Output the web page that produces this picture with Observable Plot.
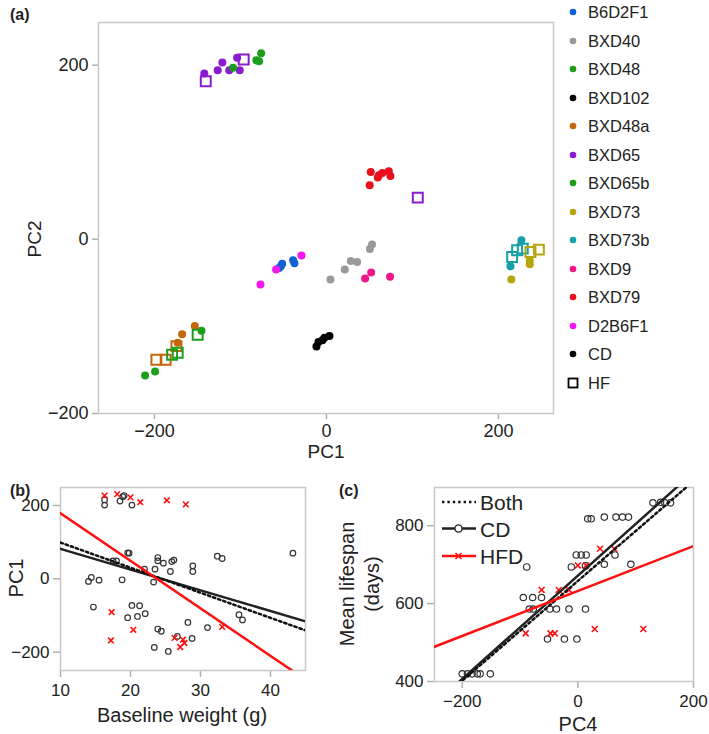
<!DOCTYPE html>
<html><head><meta charset="utf-8">
<script src="https://cdn.jsdelivr.net/npm/d3@7"></script>
<script src="https://cdn.jsdelivr.net/npm/@observablehq/plot@0.6"></script>
<style>
body{margin:0;background:#fff;font-family:"Liberation Sans",Arial,Helvetica,sans-serif;color:#222;}
#root{position:relative;width:709px;height:734px;overflow:hidden;background:#fff;}
.t{position:absolute;white-space:nowrap;line-height:1;}
[aria-label="x-axis tick"],[aria-label="y-axis tick"]{stroke:#b0b0b0;stroke-width:1.5px;}
[aria-label="x-axis tick"] path,[aria-label="y-axis tick"] path{stroke:#b0b0b0;}
</style></head><body><div id="root"></div>
<script>
// ---------- Panel (a): PCA ----------
const strainNames = ["B6D2F1","BXD40","BXD48","BXD102","BXD48a","BXD65","BXD65b","BXD73","BXD73b","BXD9","BXD79","D2B6F1"];
const strainColors = ["#1262d6","#9a9a9a","#1c9e1c","#000000","#c4660c","#8a1cd0","#1c9e1c","#b5a60e","#14a0a6","#f0168c","#e8101c","#f318f0"];
const pcaStrain = [
 "B6D2F1","B6D2F1","B6D2F1","B6D2F1","B6D2F1",
 "D2B6F1","D2B6F1","D2B6F1",
 "BXD40","BXD40","BXD40","BXD40","BXD40","BXD40",
 "BXD9","BXD9","BXD9",
 "BXD79","BXD79","BXD79","BXD79","BXD79","BXD79","BXD79",
 "BXD102","BXD102","BXD102","BXD102","BXD102",
 "BXD65","BXD65","BXD65","BXD65","BXD65","BXD65","BXD65","BXD65","BXD65",
 "BXD65b","BXD65b","BXD65b","BXD65b",
 "BXD48a","BXD48a","BXD48a","BXD48a","BXD48a","BXD48a",
 "BXD48","BXD48","BXD48","BXD48","BXD48","BXD48",
 "BXD73b","BXD73b","BXD73b","BXD73b","BXD73b",
 "BXD73","BXD73","BXD73","BXD73","BXD73"];
const pcaPC1 = [
 -55,-51.5,-53,-38.7,-37.2,
 -76.7,-58.5,-29,
 4.7,21.3,28.3,35.7,50.5,53,
 45,52,74,
 51.5,61,65,72.5,74.4,50.3,59.7,
 -11.6,-9.3,-4.7,-2.3,3.5,
 -142,-121,-126.4,-113,-103.8,-100.8,-140.3,-96.2,106.2,
 -108.5,-81.4,-75.9,-78.3,
 -153,-167.8,-172.9,-197.7,-186.9,-174.4,
 -210.8,-199.2,-145.3,-179.4,-172.9,-149.7,
 226.7,214,215.9,221.7,228.3,
 236.4,236.4,215,237.2,247];
const pcaPC2 = [
 -33,-28,-31,-24,-27.5,
 -52,-34.5,-18.5,
 -46,-34.5,-25,-26,-11,-6,
 -45,-38,-43,
 77.4,73.6,76.2,78.2,72.8,62,71,
 -123,-118,-116,-113,-111,
 190.5,203,194.3,194.3,208.4,194.3,181.6,206.6,47.9,
 196.9,205.7,213.8,204.6,
 -99.6,-109,-118.8,-138.3,-138.3,-122.6,
 -156.3,-151.7,-105,-132.6,-130.2,-109.6,
 -1,-31,-20.3,-12.6,-10.7,
 -24,-28.7,-46,-14.6,-11.8];
const pcaDiet = [
 "CD","CD","CD","CD","CD",
 "CD","CD","CD",
 "CD","CD","CD","CD","CD","CD",
 "CD","CD","CD",
 "CD","CD","CD","CD","CD","CD","CD",
 "CD","CD","CD","CD","CD",
 "CD","CD","CD","CD","CD","CD","HF","HF","HF",
 "CD","CD","CD","CD",
 "CD","CD","CD","HF","HF","HF",
 "CD","CD","CD","HF","HF","HF",
 "CD","CD","HF","HF","HF",
 "CD","CD","CD","HF","HF"];
const pcaTicks = [-200, 0, 200];

// ---------- Panel (b): PC1 vs baseline weight ----------
const bCDweight = [16.3,16.3,18.5,18.9,19.1,20.2,19.8,19.6,17.5,18,23.9,23.9,24.7,25.9,26.2,28.9,28.9,25.7,23.5,22,32.4,33.1,43.2,18.8,14.4,14,15.5,23.3,14.7,20.2,21.3,19.6,21,22.1,35.5,36,23.9,24.4,28.2,26.7,28.8,31,23.4,25.4];
const bCDpc1    = [215,201,212,224,227,201,70,71,49,49,58,49,42.7,47,51,35.4,20,20,26.4,26.4,61.7,55.4,70,-2.7,3.6,-7,-3.6,-9,-77,-72.6,-73.5,-106,-102.6,-95,-98,-112,-137,-143,-119,-157,-162.5,-133,-187,-198];
const bHFweight = [16.3,18.1,20,21.4,25.2,27.9,17.3,20.4,17.2,26.3,27.5,27.7,27.1,33.1];
const bHFpc1    = [227,231,222,209,214,203,-91,-139,-168,-161,-166,-175,-186,-131];
const bXTicks = [10, 20, 30, 40];
const bYTicks = [-200, 0, 200];

// ---------- Panel (c): lifespan vs PC4 ----------
const cCDpc4 = [129.8,143,150.4,160.2,17,23,45.8,65.9,77.2,87.5,-2.8,5.8,14.4,13.2,45.8,64.2,91.6,-11.3,-88.5,-94.4,-78.2,-62.8,-84,-77.2,-48.5,-37,-15.4,13.2,-52.5,-23.3,-1.7,-200,-191,-183,-174,-169,-151.5];
const cCDlife = [858.6,860,858.6,858.6,817.7,817.7,822,822,822,822,724.8,724.8,724.8,696.7,701,724.8,701,694,694,615.6,615.6,615.6,586,586,586,586,586,586,509,509,509,419.7,419.7,419.7,419.7,419.7,419.7];
const cHFpc4 = [-90.3,-47.4,-40,29.2,113.2,-62.8,-33,-15.4,0,14.4,38.4,63];
const cHFlife = [523.5,523.5,523.5,534.8,534.8,635,635,635,698,698,740.8,740.8];
const cXTicks = [-200, 0, 200];
const cYTicks = [400, 600, 800];

// ---------- Regression fits (Both, CD, HFD) ----------
const fitNames = ["Both", "CD", "HFD"];
const fitBIntercept = [167.2, 138.1, 308.3];
const fitBSlope = [-6.84, -5.65, -12.96];
const fitCIntercept = [658.2, 671.8, 632.3];
const fitCSlope = [1.281, 1.326, 0.577];

// ---------- helpers ----------
const FONT = '"Liberation Sans", Arial, Helvetica, sans-serif';
const root = document.getElementById("root");
const fmt = d => d < 0 ? "\u2212" + Math.abs(d) : String(d);
function place(node, left, top) {
  node.style.position = "absolute"; node.style.left = left + "px"; node.style.top = top + "px";
  root.appendChild(node); return node;
}
function text(str, cx, cy, size, opts = {}) {
  const d = document.createElement("div");
  d.className = "t"; d.textContent = str;
  d.style.left = cx + "px"; d.style.top = cy + "px"; d.style.fontSize = size + "px";
  if (opts.bold) d.style.fontWeight = "bold";
  d.style.transform = opts.anchor === "start" ? "translate(0,-50%)" : ("translate(-50%,-50%)" + (opts.rotate ? " rotate(-90deg)" : ""));
  root.appendChild(d); return d;
}
const fitLines = (icpt, slope, domain) => fitNames.flatMap((name, i) =>
  domain.map(x => ({name, x, y: icpt[i] + slope[i] * x})));
const DOT = "2.4,3";

// ---------- Panel (a) ----------
const pca = pcaStrain.map((s, i) => ({strain: s, pc1: pcaPC1[i], pc2: pcaPC2[i], diet: pcaDiet[i]}));
const plotA = Plot.plot({
  width: 560, height: 460, marginLeft: 98, marginRight: 7, marginTop: 22, marginBottom: 47,
  style: {fontSize: "18px", fontFamily: FONT, color: "#222", background: "transparent", overflow: "visible"},
  x: {domain: [-265, 264], ticks: pcaTicks, tickSize: 6, tickPadding: 5, tickFormat: fmt, label: null},
  y: {domain: [-200, 249], ticks: pcaTicks, tickSize: 6, tickPadding: 4, tickFormat: fmt, label: null},
  color: {domain: strainNames, range: strainColors},
  marks: [
    Plot.frame({stroke: "#c8c8c8", strokeWidth: 1.5}),
    Plot.dot(pca.filter(d => d.diet === "CD"), {x: "pc1", y: "pc2", fill: "strain", r: 4}),
    Plot.dot(pca.filter(d => d.diet === "HF"), {x: "pc1", y: "pc2", symbol: "square", r: 5.6, stroke: "strain", fill: "none", strokeWidth: 2})
  ]
});
place(plotA, 0, 0);
text("(a)", 10, 15, 16, {bold: true, anchor: "start"});
text("PC2", 34, 239, 19, {rotate: true});
text("PC1", 326, 451, 19);

// legend (a)
const legItems = strainNames.map((s, i) => ({label: s, color: strainColors[i], kind: "dot"}))
  .concat([{label: "CD", color: "#000", kind: "dot"}, {label: "HF", color: "#000", kind: "square"}]);
legItems.forEach((it, i) => {
  const y = 12 + i * 28.5;
  const s = document.createElementNS("http://www.w3.org/2000/svg", "svg");
  s.setAttribute("width", 14); s.setAttribute("height", 14);
  if (it.kind === "dot") s.innerHTML = `<circle cx="7" cy="7" r="3.3" fill="${it.color}"/>`;
  else s.innerHTML = `<rect x="2.5" y="2.5" width="9" height="9" fill="none" stroke="${it.color}" stroke-width="1.8"/>`;
  place(s, 566, y - 7);
  text(it.label, 588, y, 16.5, {anchor: "start"});
});

// ---------- Panel (b) ----------
const bCD = bCDweight.map((w, i) => ({w, pc1: bCDpc1[i]}));
const bHF = bHFweight.map((w, i) => ({w, pc1: bHFpc1[i]}));
const bLines = fitLines(fitBIntercept, fitBSlope, [10, 45]);
const plotB = Plot.plot({
  width: 320, height: 254, marginLeft: 60, marginRight: 15, marginTop: 7, marginBottom: 64,
  style: {fontSize: "17px", fontFamily: FONT, color: "#222", background: "transparent", overflow: "visible"},
  x: {domain: [10, 45], ticks: bXTicks, tickSize: 7, tickPadding: 6, tickFormat: fmt, label: null},
  y: {domain: [-250, 249], ticks: bYTicks, tickSize: 7, tickPadding: 4, tickFormat: fmt, label: null},
  marks: [
    Plot.frame({stroke: "#c8c8c8", strokeWidth: 1.5}),
    Plot.dot(bCD, {x: "w", y: "pc1", r: 2.8, stroke: "#333", strokeWidth: 1.2, fill: "none"}),
    Plot.dot(bHF, {x: "w", y: "pc1", r: 2.7, symbol: "times", stroke: "#ff1010", strokeWidth: 1.6}),
    Plot.line(bLines.filter(d => d.name === "CD"), {x: "x", y: "y", stroke: "#222", strokeWidth: 2.5, clip: true}),
    Plot.line(bLines.filter(d => d.name === "Both"), {x: "x", y: "y", stroke: "#111", strokeWidth: 2.5, strokeDasharray: DOT, clip: true}),
    Plot.line(bLines.filter(d => d.name === "HFD"), {x: "x", y: "y", stroke: "#ff1010", strokeWidth: 2.5, clip: true})
  ]
});
place(plotB, 0, 480);
text("(b)", 10, 491, 16, {bold: true, anchor: "start"});
text("PC1", 16, 578, 20, {rotate: true});
text("Baseline weight (g)", 182, 715, 20);

// ---------- Panel (c) ----------
const cCD = cCDpc4.map((p, i) => ({p, life: cCDlife[i]}));
const cHF = cHFpc4.map((p, i) => ({p, life: cHFlife[i]}));
const cLines = fitLines(fitCIntercept, fitCSlope, [-248, 200]);
const plotC = Plot.plot({
  width: 379, height: 254, marginLeft: 104, marginRight: 16, marginTop: 7, marginBottom: 53,
  style: {fontSize: "17px", fontFamily: FONT, color: "#222", background: "transparent", overflow: "visible"},
  x: {domain: [-248, 200], ticks: cXTicks, tickSize: 7, tickPadding: 6, tickFormat: fmt, label: null},
  y: {domain: [400, 898], ticks: cYTicks, tickSize: 7, tickPadding: 4, tickFormat: fmt, label: null},
  marks: [
    Plot.frame({stroke: "#c8c8c8", strokeWidth: 1.5}),
    Plot.dot(cCD, {x: "p", y: "life", r: 3.2, stroke: "#333", strokeWidth: 1.2, fill: "none"}),
    Plot.dot(cHF, {x: "p", y: "life", r: 2.8, symbol: "times", stroke: "#ff1010", strokeWidth: 1.6}),
    Plot.line(cLines.filter(d => d.name === "CD"), {x: "x", y: "y", stroke: "#222", strokeWidth: 2.5, clip: true}),
    Plot.line(cLines.filter(d => d.name === "Both"), {x: "x", y: "y", stroke: "#111", strokeWidth: 2.5, strokeDasharray: DOT, clip: true}),
    Plot.line(cLines.filter(d => d.name === "HFD"), {x: "x", y: "y", stroke: "#ff1010", strokeWidth: 2.5, clip: true})
  ]
});
place(plotC, 330, 480);
text("(c)", 339, 491, 16, {bold: true, anchor: "start"});
text("Mean lifespan", 347, 584, 20, {rotate: true});
text("(days)", 372, 584, 20, {rotate: true});
text("PC4", 578, 724, 20);

// legend (c)
const legC = document.createElementNS("http://www.w3.org/2000/svg", "svg");
legC.setAttribute("width", 40); legC.setAttribute("height", 80);
const legRows = [{name: fitNames[0], y: 12}, {name: fitNames[1], y: 38.5}, {name: fitNames[2], y: 66}];
legC.innerHTML =
  `<line x1="2" x2="36" y1="${legRows[0].y}" y2="${legRows[0].y}" stroke="#111" stroke-width="2.5" stroke-dasharray="${DOT}"/>` +
  `<line x1="2" x2="36" y1="${legRows[1].y}" y2="${legRows[1].y}" stroke="#222" stroke-width="2.5"/>` +
  `<circle cx="18.5" cy="${legRows[1].y}" r="3.6" fill="#fff" stroke="#222" stroke-width="1.4"/>` +
  `<line x1="2" x2="36" y1="${legRows[2].y}" y2="${legRows[2].y}" stroke="#ff1010" stroke-width="2.5"/>` +
  `<path d="M15.5,${legRows[2].y - 3}l6,6M21.5,${legRows[2].y - 3}l-6,6" stroke="#ff1010" stroke-width="1.6"/>`;
place(legC, 440, 490);
legRows.forEach(r => text(r.name, 480, 490 + r.y, 21, {anchor: "start"}));
</script></body></html>
